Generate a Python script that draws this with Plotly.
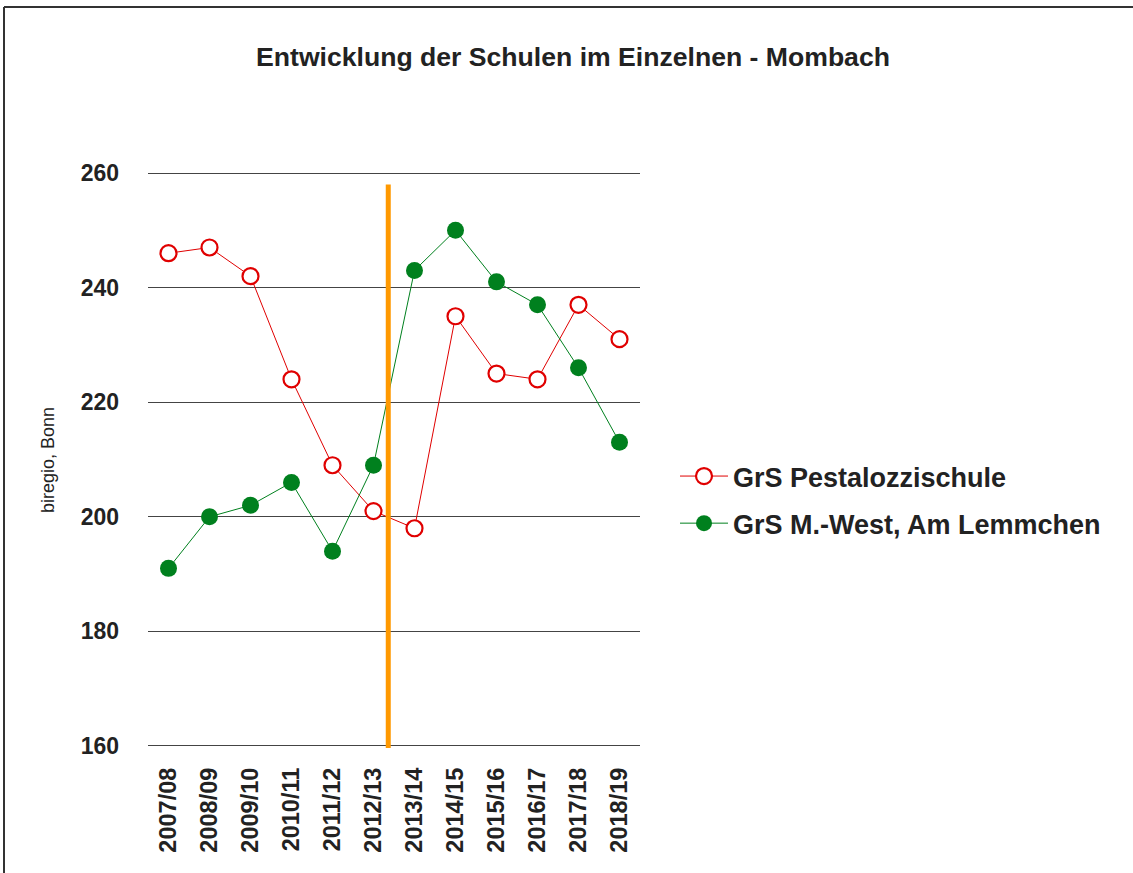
import plotly.graph_objects as go

# ---------------- data ----------------
categories = ["2007/08", "2008/09", "2009/10", "2010/11", "2011/12", "2012/13",
              "2013/14", "2014/15", "2015/16", "2016/17", "2017/18", "2018/19"]
pestalozzi = [246, 247, 242, 224, 209, 201, 198, 235, 225, 224, 237, 231]
west_lemmchen = [191, 200, 202, 206, 194, 209, 243, 250, 241, 237, 226, 213]
series_names = ["GrS Pestalozzischule", "GrS M.-West, Am Lemmchen"]
y_ticks = [160, 180, 200, 220, 240, 260]
marker_line_pos = 5.36          # position of orange marker line (category index units)
marker_line_span = [159.5, 258]  # value span of orange marker line

# ---------------- layout constants ----------------
W, H = 1133, 873
L, R, T, B = 148, 493, 171, 125
pw, ph = W - L - R, H - T - B
Y_RANGE = [159.65, 260.35]

RED = "#e00000"
GREEN = "#00801e"
ORANGE = "#ff9900"
SANS = "Liberation Sans, Arial, Helvetica"
INK = "#222222"

fig = go.Figure()
fig.add_trace(go.Scatter(
    x=categories, y=pestalozzi, name=series_names[0], mode="lines+markers",
    line=dict(color=RED, width=1),
    marker=dict(symbol="circle", size=16, color="white", line=dict(color=RED, width=2.2)),
    legendgroup="a",
))
fig.add_trace(go.Scatter(
    x=categories, y=west_lemmchen, name=series_names[1], mode="lines+markers",
    line=dict(color=GREEN, width=1),
    marker=dict(symbol="circle", size=17, color=GREEN, line=dict(color=GREEN, width=0)),
    legendgroup="b",
))

# orange vertical marker line
fig.add_shape(type="line", xref="x", yref="y",
              x0=marker_line_pos, x1=marker_line_pos,
              y0=marker_line_span[0], y1=marker_line_span[1],
              line=dict(color=ORANGE, width=5), layer="above")


def px_to_paper_x(px):
    return (px - L) / pw


def px_to_paper_y(py):
    return (H - B - py) / ph


# outer frame (top and left lines only)
fig.add_shape(type="line", xref="paper", yref="paper",
              x0=px_to_paper_x(4), x1=px_to_paper_x(W + 5),
              y0=px_to_paper_y(7), y1=px_to_paper_y(7),
              line=dict(color="#333333", width=2))
fig.add_shape(type="line", xref="paper", yref="paper",
              x0=px_to_paper_x(4), x1=px_to_paper_x(4),
              y0=px_to_paper_y(7), y1=px_to_paper_y(H + 5),
              line=dict(color="#333333", width=2))

# y-axis title
fig.add_annotation(text="biregio, Bonn", xref="paper", yref="paper",
                   x=px_to_paper_x(48), y=px_to_paper_y(460), xanchor="center", yanchor="middle",
                   textangle=-90, showarrow=False,
                   font=dict(family=SANS, size=18, color=INK))

fig.update_layout(
    width=W, height=H,
    margin=dict(l=L, r=R, t=T, b=B, autoexpand=False),
    paper_bgcolor="white", plot_bgcolor="white",
    title=dict(text="<b>Entwicklung der Schulen im Einzelnen - Mombach</b>",
               x=573 / W, xanchor="center", y=1 - 57 / H, yanchor="middle",
               yref="container", xref="container",
               font=dict(family=SANS, size=26.6, color=INK)),
    xaxis=dict(type="category", categoryorder="array", categoryarray=categories,
               range=[-0.5, len(categories) - 0.5],
               showgrid=False, zeroline=False, showline=False,
               tickangle=-90, ticks="", ticklabelstandoff=14,
               tickfont=dict(family=SANS, size=23.5, color=INK, weight="bold")),
    yaxis=dict(range=Y_RANGE, tickvals=y_ticks,
               showgrid=True, gridcolor="#444444", gridwidth=1,
               zeroline=False, showline=False, ticks="", ticklabelstandoff=28,
               tickfont=dict(family=SANS, size=23, color=INK, weight="bold")),
    legend=dict(x=px_to_paper_x(675), y=px_to_paper_y(500), xanchor="left", yanchor="middle",
                font=dict(family=SANS, size=27, color=INK, weight="bold"),
                itemwidth=48,
                traceorder="grouped", tracegroupgap=9, bgcolor="rgba(0,0,0,0)"),
    showlegend=True,
)

fig.write_html("out.html", config={"displayModeBar": False},
               post_script="document.body.style.margin='0';document.body.style.overflow='hidden';")
